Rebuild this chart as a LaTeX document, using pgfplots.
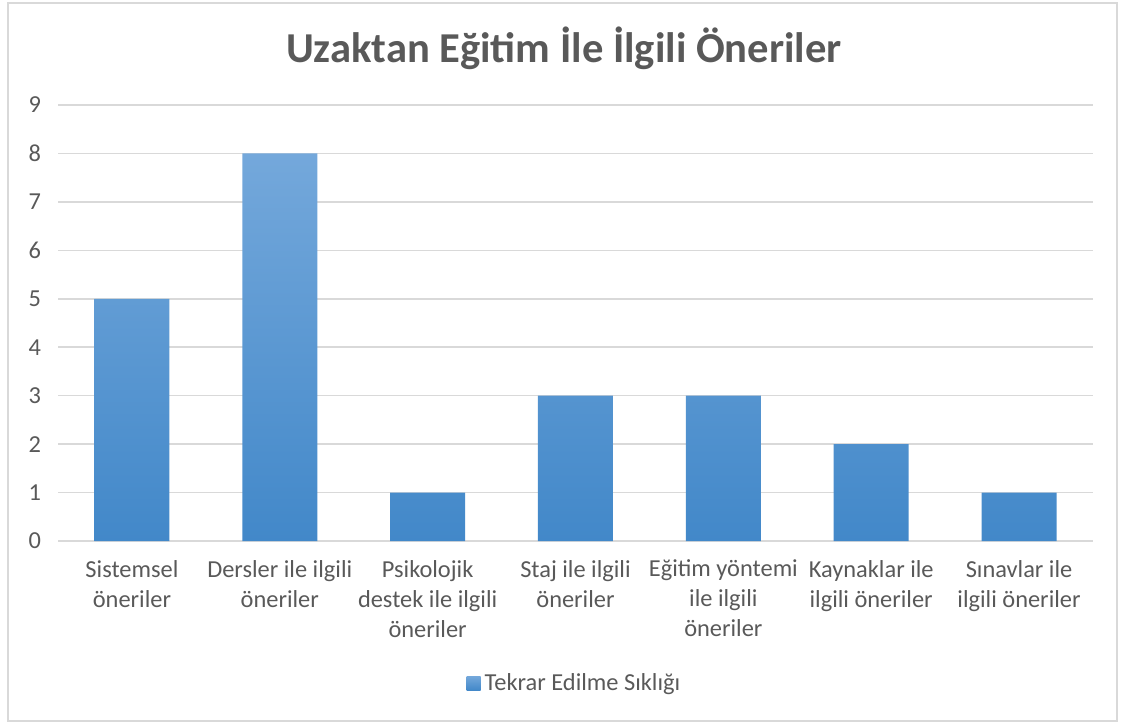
\documentclass[border=0pt]{standalone}
\usepackage{pgfplots}
\pgfplotsset{compat=1.18}
\usepackage{fontspec}
\setmainfont{Carlito}
\definecolor{txt}{RGB}{89,89,89}
\definecolor{gridc}{RGB}{217,217,217}
\definecolor{bartop}{RGB}{116,168,219}
\definecolor{barbot}{RGB}{66,136,201}
\definecolor{framec}{RGB}{217,217,217}
\begin{document}
\begin{tikzpicture}[x=1pt,y=1pt]
\useasboundingbox (0,0) rectangle (562.5,362);
\draw[framec,line width=0.75pt] (4,1.5) rectangle (558.5,360.5);
\node[txt,font=\fontsize{21.3}{26}\selectfont\bfseries] at (282,338) {Uzaktan Eğitim İle İlgili Öneriler};
\begin{axis}[
  at={(29pt,91.5pt)}, anchor=south west,
  scale only axis, width=517.5pt, height=218pt,
  xmin=-0.5, xmax=6.5, ymin=0, ymax=9,
  ytick={0,...,9},
  xtick={0,...,6},
  xticklabels={{Sistemsel\\öneriler},{Dersler ile ilgili\\öneriler},{Psikolojik\\destek ile ilgili\\öneriler},{Staj ile ilgili\\öneriler},{Eğitim yöntemi\\ile ilgili\\öneriler},{Kaynaklar ile\\ilgili öneriler},{Sınavlar ile\\ilgili öneriler}},
  xticklabel style={align=center, font=\fontsize{12.2}{15}\selectfont, text=txt, yshift=-6pt},
  yticklabel style={font=\fontsize{12.2}{15}\selectfont, text=txt, xshift=-5pt},
  /pgf/number format/assume math mode=true,
  ymajorgrids, xmajorgrids=false, grid style={draw=gridc, line width=0.75pt},
  major tick length=0pt, tick style={draw=none},
  axis line style={draw=none},
  legend style={at={(0.5,-0.326)}, anchor=center, draw=none, fill=none, font=\fontsize{12.2}{15}\selectfont, text=txt, legend columns=1},
  legend image code/.code={\shade[top color=bartop,bottom color=barbot] (-2pt,-3.5pt) rectangle (5pt,3.5pt);},
  legend cell align=left,
]
\addplot[ybar, bar width=37.5pt, draw=none, top color=bartop, bottom color=barbot, bar shift=0pt]
  coordinates {(0,5) (1,8) (2,1) (3,3) (4,3) (5,2) (6,1)};
\addlegendentry{Tekrar Edilme Sıklığı}
\end{axis}
\end{tikzpicture}
\end{document}
